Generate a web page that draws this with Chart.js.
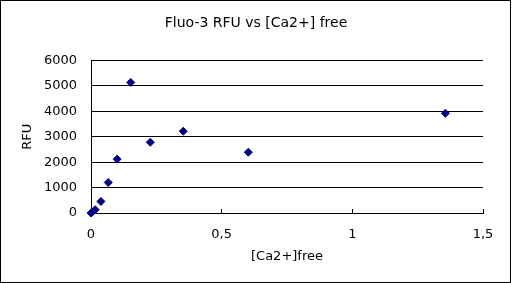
<!DOCTYPE html>
<html>
<head>
<meta charset="utf-8">
<script src="https://cdn.jsdelivr.net/npm/chart.js@4"></script>
<style>
  html, body { margin:0; padding:0; background:#fff; }
  #wrap { width:512px; height:283px; }
</style>
</head>
<body>
<div id="wrap"><canvas id="chart" width="512" height="283"></canvas></div>
<script>
const caFree = [0, 0.005, 0.016, 0.038, 0.066, 0.1, 0.152, 0.227, 0.353, 0.602, 1.356];
const rfu    = [0, 40, 130, 455, 1200, 2118, 5137, 2784, 3216, 2392, 3922];
const xTicks = [0, 0.5, 1, 1.5];
const yTicks = [0, 1000, 2000, 3000, 4000, 5000, 6000];

const FONT = 'DejaVu Sans';

// outer frame round the whole chart
const frame = {
  id:'frame',
  afterDraw(c){
    const ctx = c.ctx;
    ctx.save();
    ctx.strokeStyle = '#000';
    ctx.lineWidth = 1;
    ctx.strokeRect(0.5, 0.5, 510, 282);
    ctx.restore();
  }
};

new Chart(document.getElementById('chart'), {
  type:'scatter',
  data:{
    datasets:[{
      data: caFree.map((x,i)=>({x, y:rfu[i]})),
      pointStyle:'rectRot',
      pointRadius:4,
      backgroundColor:'#000080',
      borderColor:'#000080',
      borderWidth:1,
      clip:false
    }]
  },
  options:{
    responsive:false,
    animation:false,
    layout:{ padding:0 },
    plugins:{
      legend:{ display:false },
      tooltip:{ enabled:false },
      title:{
        display:true,
        text:'Fluo-3 RFU vs [Ca2+] free',
        color:'#000',
        font:{ family:FONT, size:14, weight:'normal' },
        padding:{ top:15.2, bottom:28.5 }
      }
    },
    scales:{
      x:{
        type:'linear',
        min:xTicks[0], max:xTicks[xTicks.length-1],
        afterBuildTicks:(s)=>{ s.ticks = xTicks.map(v=>({value:v})); },
        afterFit:(s)=>{ s.height = 70; },
        grid:{ color:'rgba(0,0,0,0)', drawTicks:true, tickLength:-4, tickColor:'#000', tickWidth:1 },
        border:{ display:true, color:'#000', width:1 },
        ticks:{
          color:'#000', padding:18.2, maxRotation:0,
          font:{ family:FONT, size:13 },
          callback:(v)=> String(v).replace('.', ',')
        },
        title:{
          display:true, text:'[Ca2+]free', color:'#000',
          font:{ family:FONT, size:13 },
          padding:{ top:0, bottom:18.5 }
        }
      },
      y:{
        type:'linear',
        min:yTicks[0], max:yTicks[yTicks.length-1],
        afterBuildTicks:(s)=>{ s.ticks = yTicks.map(v=>({value:v})); },
        afterFit:(s)=>{ s.width = 91; },
        grid:{ color:'#000', lineWidth:1, drawTicks:false },
        border:{ display:true, color:'#000', width:1 },
        ticks:{
          color:'#000', padding:14,
          font:{ family:FONT, size:13 },
          callback:(v)=> String(v)
        },
        title:{
          display:true, text:'RFU', color:'#000',
          font:{ family:FONT, size:13 },
          padding:{ top:20, bottom:0 }
        }
      },
      // empty margin on the right so the title stays centred on the page
      yRight:{
        position:'right',
        grid:{ display:false },
        border:{ display:false },
        ticks:{ display:false },
        afterFit:(s)=>{ s.width = 29; }
      }
    }
  },
  plugins:[frame]
});
</script>
</body>
</html>
